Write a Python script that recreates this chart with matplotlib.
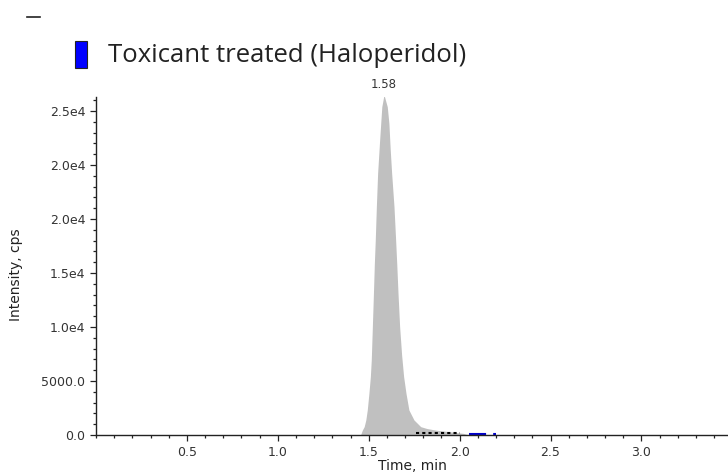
import matplotlib
matplotlib.use("Agg")
import matplotlib.pyplot as plt
from matplotlib.ticker import MultipleLocator, FixedLocator, FixedFormatter

# ---- data ----
peak_time = [1.455, 1.465, 1.475, 1.484, 1.492, 1.501, 1.509, 1.514, 1.520, 1.526,
             1.531, 1.536, 1.542, 1.549, 1.560, 1.566, 1.572, 1.584, 1.602, 1.611,
             1.618, 1.626, 1.639, 1.648, 1.654, 1.661, 1.670, 1.681, 1.692, 1.705,
             1.721, 1.749, 1.786, 1.820, 1.870, 1.920, 1.970, 2.020, 2.050]
peak_intensity = [0, 460, 770, 1390, 2315, 3860, 5400, 6940, 10030, 13150,
                  15900, 18055, 21140, 24260, 27300, 28860, 30400, 31500, 30400, 28860,
                  26500, 24260, 21140, 18055, 15900, 13150, 10030, 7400, 5400, 3860,
                  2315, 1390, 770, 600, 450, 350, 250, 150, 0]
black_trace_time = [1.76, 2.00]
black_trace_int = [150, 150]
blue_trace_time = [2.05, 2.20]
blue_trace_int = [130, 130]
apex_time = 1.584
apex_int = 31500
apex_label = "1.58"

y_tick_values = [0, 5000, 10000, 15000, 20000, 25000, 30000]
y_tick_labels = ["0.0", "5000.0", "1.0e4", "1.5e4", "2.0e4", "2.0e4", "2.5e4"]
x_tick_values = [0.5, 1.0, 1.5, 2.0, 2.5, 3.0]
x_tick_labels = ["0.5", "1.0", "1.5", "2.0", "2.5", "3.0"]
legend_label = "Toxicant treated (Haloperidol)"

# ---- figure ----
fig = plt.figure(figsize=(7.28, 4.73), dpi=100)
ax = fig.add_axes([96 / 728, 1 - 435 / 473, 1 - 96 / 728, (435 - 97) / 473])

ax.fill_between(peak_time, peak_intensity, 0, color="#c0c0c0", linewidth=0)
ax.plot(black_trace_time, black_trace_int, color="black", linestyle=(0, (1.5, 1.5)), linewidth=1.5)
ax.plot(blue_trace_time, blue_trace_int, color="#0000cc", linestyle=(0, (8.2, 3.4, 1.6, 10)), linewidth=1.5)

ax.text(apex_time, apex_int + 350, apex_label, ha="center", va="bottom",
        fontsize=8.5, color="#333333", family="DejaVu Sans", clip_on=False)

ax.set_xlim(0, 3.476)
ax.set_ylim(0, 31300)

for s in ["top", "right"]:
    ax.spines[s].set_visible(False)
for s in ["left", "bottom"]:
    ax.spines[s].set_color("#222222")
    ax.spines[s].set_linewidth(1.0)

ax.yaxis.set_major_locator(FixedLocator(y_tick_values))
ax.yaxis.set_major_formatter(FixedFormatter(y_tick_labels))
ax.yaxis.set_minor_locator(MultipleLocator(1000))
ax.xaxis.set_major_locator(FixedLocator(x_tick_values))
ax.xaxis.set_major_formatter(FixedFormatter(x_tick_labels))
ax.xaxis.set_minor_locator(MultipleLocator(0.1))

ax.tick_params(axis="both", which="major", direction="out", length=4, width=0.9,
               color="#222222", labelsize=9, labelcolor="#333333", pad=3.6)
ax.tick_params(axis="both", which="minor", direction="out", length=2.2, width=0.9,
               color="#222222")
for lab in ax.get_xticklabels() + ax.get_yticklabels():
    lab.set_family("DejaVu Sans")

ax.set_ylabel("Intensity, cps", fontsize=10, color="#222222", family="DejaVu Sans")
ax.yaxis.set_label_coords((23 - 96) / 632, (435 - 275) / 338)
ax.set_xlabel("Time, min", fontsize=10, color="#222222", family="DejaVu Sans", va="top")
ax.xaxis.set_label_coords(0.5, -(459 - 435) / 338)

# legend-like header
fig.patches.append(plt.Rectangle((75 / 728, 1 - 68 / 473), 12 / 728, 27 / 473,
                                 transform=fig.transFigure, facecolor="#0000ff",
                                 edgecolor="#222222", linewidth=0.8))
fig.text(108 / 728, 1 - 55 / 473, legend_label, ha="left", va="center",
         fontsize=18.5, color="#222222", family="Open Sans")

# small dash at top-left
fig.add_artist(plt.Line2D([27 / 728, 40 / 728], [1 - 17 / 473, 1 - 17 / 473],
                          transform=fig.transFigure, color="#222222", linewidth=1.2))

fig.savefig("out.png", dpi=100)
